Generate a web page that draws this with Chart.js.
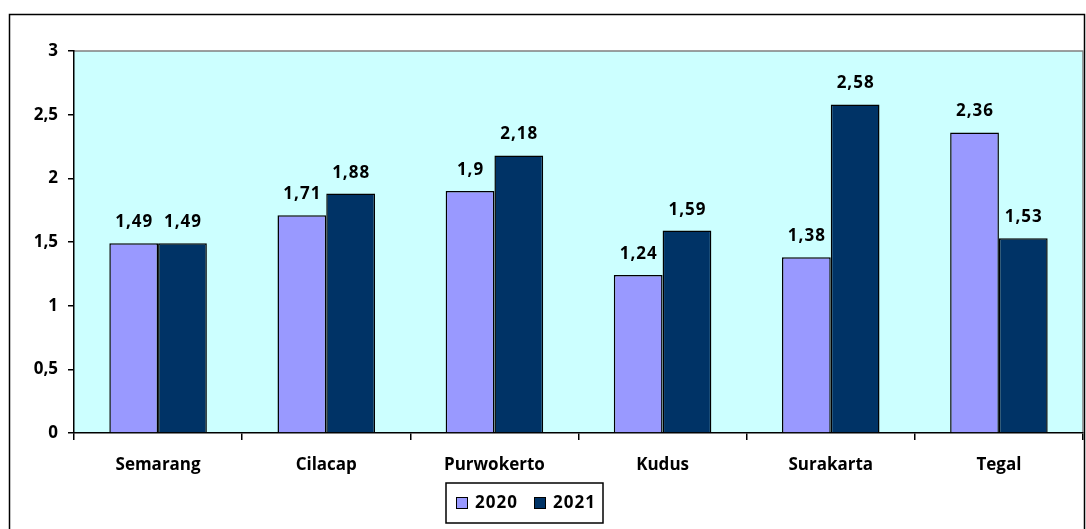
<!DOCTYPE html>
<html>
<head>
<meta charset="utf-8">
<script src="https://cdn.jsdelivr.net/npm/chart.js"></script>
<style>
  body { margin: 0; background: #fff; }
  #wrap { width: 1086px; height: 529px; position: relative; }
</style>
</head>
<body>
<div id="wrap"><canvas id="chart"></canvas></div>
<script>
const cities = ['Semarang', 'Cilacap', 'Purwokerto', 'Kudus', 'Surakarta', 'Tegal'];
const values2020 = [1.49, 1.71, 1.9, 1.24, 1.38, 2.36];
const values2021 = [1.49, 1.88, 2.18, 1.59, 2.58, 1.53];
const seriesNames = ['2020', '2021'];

const FONT = "'Open Sans', sans-serif";
const fmt = v => String(v).replace('.', ',');

// frame, plot background and gray top/right border
const framePlugin = {
  id: 'frame',
  beforeDraw(chart) {
    const ctx = chart.ctx;
    const a = chart.chartArea;
    ctx.save();
    ctx.strokeStyle = '#000';
    ctx.lineWidth = 1.5;
    ctx.strokeRect(9.5, 14.5, 1075, 530);
    ctx.fillStyle = '#CCFFFF';
    ctx.fillRect(a.left, a.top, a.right - a.left, a.bottom - a.top);
    ctx.strokeStyle = '#808080';
    ctx.lineWidth = 1.5;
    ctx.beginPath();
    ctx.moveTo(a.left, a.top);
    ctx.lineTo(a.right, a.top);
    ctx.lineTo(a.right, a.bottom);
    ctx.stroke();
    ctx.restore();
  }
};

// value labels above bars + boxed legend at the bottom
const labelPlugin = {
  id: 'labels',
  afterDatasetsDraw(chart) {
    const ctx = chart.ctx;
    ctx.save();
    ctx.font = 'bold 17px ' + FONT;
    ctx.letterSpacing = '1px';
    ctx.fillStyle = '#000';
    ctx.textAlign = 'center';
    ctx.textBaseline = 'alphabetic';
    chart.data.datasets.forEach((ds, i) => {
      chart.getDatasetMeta(i).data.forEach((bar, j) => {
        ctx.fillText(fmt(ds.data[j]), bar.x + 0.5, bar.y - 16);
      });
    });

    // legend
    const boxX = 446, boxY = 483, boxW = 157, boxH = 40;
    ctx.lineWidth = 1.5;
    ctx.strokeStyle = '#000';
    ctx.strokeRect(boxX, boxY, boxW, boxH);
    ctx.textAlign = 'left';
    ctx.textBaseline = 'middle';
    let x = boxX + 10;
    chart.data.datasets.forEach(ds => {
      ctx.fillStyle = ds.backgroundColor;
      ctx.fillRect(x, 497, 11, 11);
      ctx.lineWidth = 1;
      ctx.strokeRect(x + 0.5, 497.5, 11, 11);
      ctx.fillStyle = '#000';
      ctx.fillText(ds.label, x + 19, 503);
      x += 78;
    });
    ctx.restore();
  }
};

new Chart(document.getElementById('chart'), {
  type: 'bar',
  data: {
    labels: cities,
    datasets: [
      { label: seriesNames[0], data: values2020, backgroundColor: '#9999FF', borderColor: '#000', borderWidth: 1.5 },
      { label: seriesNames[1], data: values2021, backgroundColor: '#003366', borderColor: '#000', borderWidth: 1.5 }
    ]
  },
  options: {
    responsive: true,
    maintainAspectRatio: false,
    animation: false,
    layout: { padding: { left: 0, top: 51, right: 3, bottom: 0 } },
    datasets: { bar: { categoryPercentage: 0.58, barPercentage: 1 } },
    plugins: { legend: { display: false }, tooltip: { enabled: false } },
    scales: {
      x: {
        afterFit(s) { s.height = 96; },
        grid: { offset: true, drawOnChartArea: false, drawTicks: true, tickLength: 7, color: '#000', lineWidth: 1.5 },
        border: { color: '#000', width: 1.5 },
        ticks: { color: '#000', font: { family: FONT, size: 17, weight: 'bold' }, padding: 15, maxRotation: 0 }
      },
      y: {
        min: 0, max: 3,
        afterFit(s) { s.width = 74; },
        grid: { drawOnChartArea: false, drawTicks: true, tickLength: 6, color: '#000', lineWidth: 1.5 },
        border: { color: '#000', width: 1.5 },
        ticks: { stepSize: 0.5, color: '#000', font: { family: FONT, size: 17, weight: 'bold' }, padding: 10, callback: v => fmt(v) }
      }
    }
  },
  plugins: [framePlugin, labelPlugin]
});
</script>
</body>
</html>
